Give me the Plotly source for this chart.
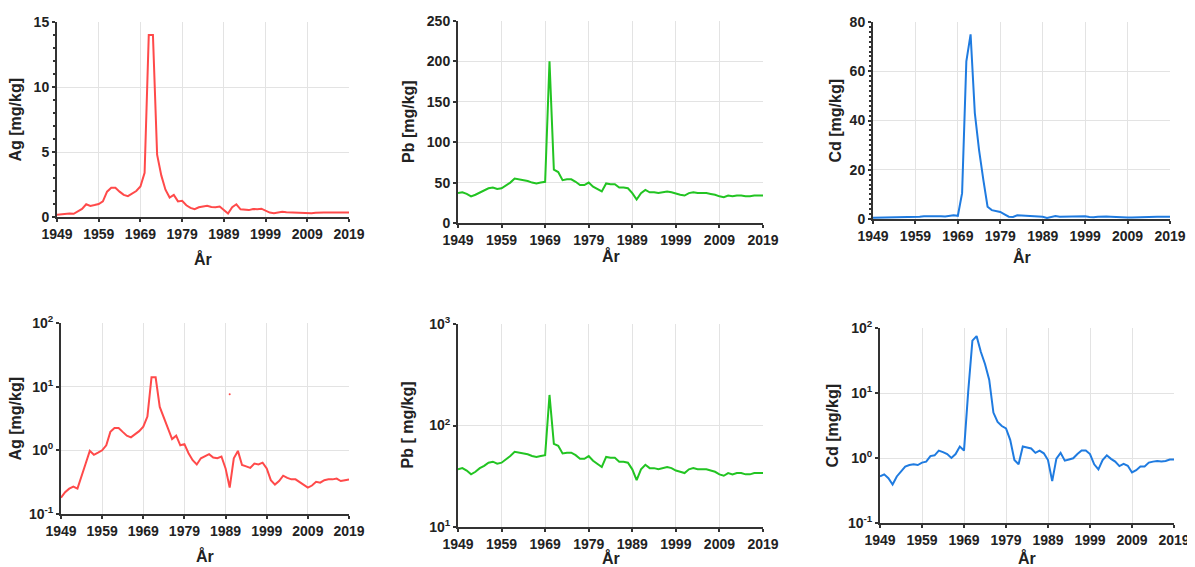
import plotly.graph_objects as go

years = list(range(1949, 2020))

ag = [0.18, 0.22, 0.25, 0.27, 0.25, 0.41, 0.62, 0.98, 0.85, 0.92, 1.0, 1.2, 1.95,
      2.25, 2.25, 1.95, 1.7, 1.6, 1.8, 2.0, 2.35, 3.4, 14.0, 14.0, 4.8, 3.2, 2.1, 1.5,
      1.7, 1.2, 1.25, 0.9, 0.7, 0.6, 0.75, 0.8, 0.87, 0.77, 0.75, 0.8, 0.52, 0.26, 0.75,
      0.98, 0.59, 0.56, 0.53, 0.62, 0.6, 0.64, 0.52, 0.34, 0.29, 0.33, 0.4, 0.37, 0.35,
      0.35, 0.32, 0.29, 0.26, 0.28, 0.32, 0.31, 0.34, 0.35, 0.35, 0.36, 0.33, 0.34, 0.35]

pb = [37, 38, 36, 33, 35, 38, 40, 43, 44, 42, 43, 46, 50, 55, 54, 53, 52, 50, 49, 50,
      51, 200, 66, 63, 53, 54, 54, 51, 47, 47, 50, 45, 42, 39, 49, 48, 48, 44, 44, 43,
      37, 29, 37, 41, 38, 38, 37, 38, 39, 38, 36, 35, 34, 37, 38, 37, 37, 37, 36, 35,
      33, 32, 34, 33, 34, 34, 33, 33, 34, 34, 34]

cd = [0.52, 0.56, 0.49, 0.39, 0.52, 0.62, 0.74, 0.78, 0.8, 0.78, 0.85, 0.88, 1.07, 1.1,
      1.3, 1.23, 1.15, 1.0, 1.15, 1.5, 1.3, 10.5, 64, 75, 43, 28, 16, 5.0, 3.6, 3.1, 2.85,
      1.9, 0.93, 0.8, 1.5, 1.45, 1.4, 1.2, 1.3, 1.18, 0.93, 0.44, 0.98, 1.2, 0.91, 0.95,
      0.99, 1.15, 1.3, 1.3, 1.15, 0.8, 0.67, 0.93, 1.1, 0.97, 0.88, 0.75, 0.81, 0.76,
      0.6, 0.65, 0.74, 0.74, 0.85, 0.88, 0.9, 0.88, 0.9, 0.95, 0.95]

ag_dot_year = [1990]
ag_dot_value = [7.6]

xticks = [1949, 1959, 1969, 1979, 1989, 1999, 2009, 2019]
log_ticktext = {-1: "10<sup>-1</sup>", 0: "10<sup>0</sup>", 1: "10<sup>1</sup>",
                2: "10<sup>2</sup>", 3: "10<sup>3</sup>"}

RED, GREEN, BLUE = "#ff4a4a", "#22c422", "#1f7be0"
OFF = 8                      # page body margin
W, H = 1195 - OFF, 567 - OFF  # figure size that fits the window

def fx(a):
    return (a - OFF) / W

def fy(a):
    return 1 - (a - OFF) / H

panels = [
    dict(x=(57, 349), y=(22, 217), data=ag, color=RED, log=False, rng=[0, 15], dtick=5,
         minor=1, title="Ag [mg/kg]", tx=15, ty=259),
    dict(x=(458, 763), y=(21, 223), data=pb, color=GREEN, log=False, rng=[0, 250], dtick=50,
         minor=None, title="Pb [mg/kg]", tx=408, ty=256),
    dict(x=(873, 1170), y=(22, 219), data=cd, color=BLUE, log=False, rng=[0, 80], dtick=20,
         minor=2, title="Cd [mg/kg]", tx=835, ty=257),
    dict(x=(61, 349), y=(323, 514), data=ag, color=RED, log=True, rng=[-1, 2], dtick=None,
         minor=None, title="Ag [mg/kg]", tx=15, ty=556),
    dict(x=(458, 763), y=(324, 527), data=pb, color=GREEN, log=True, rng=[1, 3], dtick=None,
         minor=None, title="Pb [ mg/kg]", tx=407, ty=558),
    dict(x=(880, 1174), y=(328, 523), data=cd, color=BLUE, log=True, rng=[-1, 2], dtick=None,
         minor=None, title="Cd [mg/kg]", tx=832, ty=558),
]

fig = go.Figure()
tickfont = dict(family="Liberation Sans, Arial", size=14, color="#222222", weight="bold")
titlefont = dict(family="Liberation Sans, Arial", size=16, color="#222222", weight="bold")
annotations = []

for i, p in enumerate(panels, start=1):
    xa = "x" if i == 1 else f"x{i}"
    ya = "y" if i == 1 else f"y{i}"
    fig.add_trace(go.Scatter(x=years, y=p["data"], mode="lines",
                             line=dict(color=p["color"], width=2),
                             xaxis=xa, yaxis=ya, showlegend=False))
    xaxis = dict(domain=[fx(p["x"][0]), fx(p["x"][1])], anchor=ya, range=[1949, 2019],
                 tickvals=xticks, ticks="outside", ticklen=3, tickwidth=1.5,
                 tickcolor="#333", showline=True, linecolor="#333", linewidth=2,
                 showgrid=True, gridcolor="#e3e3e3", gridwidth=1, zeroline=False,
                 tickfont=tickfont, automargin=False)
    yaxis = dict(domain=[fy(p["y"][1]), fy(p["y"][0])], anchor=xa, ticks="outside",
                 ticklen=3, tickwidth=1.5, tickcolor="#333", showline=True,
                 linecolor="#333", linewidth=2, showgrid=True, gridcolor="#e3e3e3",
                 gridwidth=1, zeroline=False, tickfont=tickfont, automargin=False)
    if p["log"]:
        lo, hi = p["rng"]
        yaxis.update(type="log", range=[lo, hi],
                     tickvals=[10 ** k for k in range(lo, hi + 1)],
                     ticktext=[log_ticktext[k] for k in range(lo, hi + 1)])
    else:
        yaxis.update(range=p["rng"], dtick=p["dtick"], tick0=0)
        if p["minor"]:
            yaxis["minor"] = dict(dtick=p["minor"], ticks="outside", ticklen=2,
                                  tickcolor="#333", showgrid=False)
    key = "" if i == 1 else str(i)
    fig.update_layout(**{f"xaxis{key}": xaxis, f"yaxis{key}": yaxis})
    annotations.append(dict(text=p["title"], x=fx(p["tx"]),
                            y=fy((p["y"][0] + p["y"][1]) / 2),
                            xref="paper", yref="paper", textangle=-90, showarrow=False,
                            font=titlefont, xanchor="center", yanchor="middle"))
    annotations.append(dict(text="År", x=fx((p["x"][0] + p["x"][1]) / 2), y=fy(p["ty"]),
                            xref="paper", yref="paper", showarrow=False,
                            font=titlefont, xanchor="center", yanchor="middle"))

fig.add_trace(go.Scatter(x=ag_dot_year, y=ag_dot_value, mode="markers",
                         marker=dict(color=RED, size=2), xaxis="x4", yaxis="y4",
                         showlegend=False))

fig.update_layout(width=W, height=H, margin=dict(l=0, r=0, t=0, b=0),
                  paper_bgcolor="white", plot_bgcolor="white",
                  annotations=annotations)

fig.write_html("out.html")
